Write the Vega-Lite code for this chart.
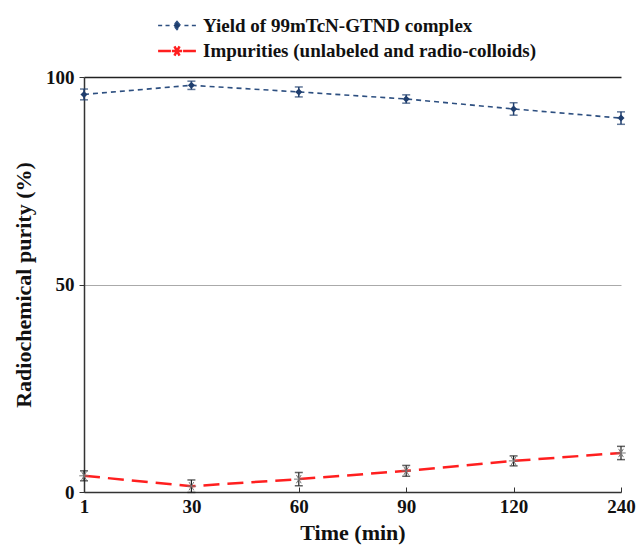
{
  "$schema": "https://vega.github.io/schema/vega-lite/v6.json",
  "width": 537,
  "height": 415,
  "autosize": {"type": "none"},
  "padding": {"left": 84, "top": 77, "right": 15, "bottom": 53},
  "background": "white",
  "config": {
    "view": {"stroke": null},
    "font": "Liberation Serif",
    "axis": {"labelFont": "Liberation Serif", "titleFont": "Liberation Serif", "labelFontWeight": "bold", "titleFontWeight": "bold", "labelColor": "#111", "titleColor": "#111", "labelFontSize": 19, "titleFontSize": 22}
  },
  "data": {"values": [
    {"time": 1, "series": "Yield of 99mTcN-GTND complex", "value": 95.8, "lo": 94.5, "hi": 97.1},
    {"time": 30, "series": "Yield of 99mTcN-GTND complex", "value": 98.0, "lo": 97.0, "hi": 99.0},
    {"time": 60, "series": "Yield of 99mTcN-GTND complex", "value": 96.4, "lo": 95.2, "hi": 97.6},
    {"time": 90, "series": "Yield of 99mTcN-GTND complex", "value": 94.7, "lo": 93.7, "hi": 95.7},
    {"time": 120, "series": "Yield of 99mTcN-GTND complex", "value": 92.3, "lo": 90.8, "hi": 93.8},
    {"time": 240, "series": "Yield of 99mTcN-GTND complex", "value": 90.1, "lo": 88.6, "hi": 91.6},
    {"time": 1, "series": "Impurities (unlabeled and radio-colloids)", "value": 3.9, "lo": 2.7, "hi": 5.1},
    {"time": 30, "series": "Impurities (unlabeled and radio-colloids)", "value": 1.4, "lo": -0.1, "hi": 2.9},
    {"time": 60, "series": "Impurities (unlabeled and radio-colloids)", "value": 3.1, "lo": 1.5, "hi": 4.7},
    {"time": 90, "series": "Impurities (unlabeled and radio-colloids)", "value": 5.1, "lo": 3.8, "hi": 6.4},
    {"time": 120, "series": "Impurities (unlabeled and radio-colloids)", "value": 7.5, "lo": 6.3, "hi": 8.7},
    {"time": 240, "series": "Impurities (unlabeled and radio-colloids)", "value": 9.4, "lo": 7.8, "hi": 11.0}
  ]},
  "encoding": {
    "x": {"field": "time", "type": "ordinal", "scale": {"type": "point", "padding": 0},
      "axis": {"title": "Time (min)", "labelAngle": 0, "domainColor": "#333", "domainWidth": 1.5, "tickColor": "#333", "tickSize": -5, "labelPadding": 10, "titlePadding": 6}}
  },
  "layer": [
    {
      "mark": {"type": "line"},
      "encoding": {
        "y": {"field": "value", "type": "quantitative", "scale": {"domain": [0, 100]},
          "axis": {"title": "Radiochemical purity (%)", "values": [0, 50, 100], "titlePadding": 10, "domainColor": "#333", "domainWidth": 1.5, "tickColor": "#333", "tickSize": 5, "labelPadding": 5,
            "grid": true, "gridColor": {"condition": {"test": "datum.value === 100", "value": "#222"}, "value": "#aaa"}, "gridWidth": {"condition": {"test": "datum.value === 100", "value": 1.5}, "value": 1}}},
        "color": {"field": "series", "type": "nominal",
          "scale": {"domain": ["Yield of 99mTcN-GTND complex", "Impurities (unlabeled and radio-colloids)"], "range": ["#2d4f80", "#ff1f1f"]},
          "legend": {"title": null, "orient": "none", "legendX": 78, "legendY": -66, "direction": "vertical",
            "labelFont": "Liberation Serif", "labelFontWeight": "bold", "labelFontSize": 19, "labelColor": "#111", "labelOffset": 11, "labelLimit": 600, "rowPadding": 0, "symbolSize": 729,
            "encode": {"symbols": {"update": {
              "shape": {"signal": "datum.value == 'Yield of 99mTcN-GTND complex' ? 'M-1.4,0L-1.1,0M-0.85,0L-0.55,0M0.55,0L0.85,0M1.1,0L1.4,0M0,-0.3L0.26,0L0,0.3L-0.26,0Z' : 'M-1.4,0L-0.45,0M0.45,0L1.4,0M-0.38,0L0.38,0M-0.19,-0.34L0.19,0.34M-0.19,0.34L0.19,-0.34'"},
              "fill": {"signal": "datum.value == 'Yield of 99mTcN-GTND complex' ? '#1f3e6e' : 'transparent'"},
              "stroke": {"signal": "datum.value == 'Yield of 99mTcN-GTND complex' ? '#1f3e6e' : '#ff1f1f'"},
              "strokeWidth": {"signal": "datum.value == 'Yield of 99mTcN-GTND complex' ? 2 : 2.5"},
              "strokeDash": {"value": []}
            }}}}},
        "strokeDash": {"field": "series", "type": "nominal", "legend": null,
          "scale": {"domain": ["Yield of 99mTcN-GTND complex", "Impurities (unlabeled and radio-colloids)"], "range": [[5, 4], [16, 8]]}},
        "strokeWidth": {"field": "series", "type": "nominal", "legend": null,
          "scale": {"domain": ["Yield of 99mTcN-GTND complex", "Impurities (unlabeled and radio-colloids)"], "range": [1.6, 2.5]}}
      }
    },
    {
      "transform": [{"filter": "datum.series == 'Yield of 99mTcN-GTND complex'"}],
      "mark": {"type": "rule", "color": "#1f3e6e", "strokeWidth": 1.5},
      "encoding": {"y": {"field": "lo", "type": "quantitative"}, "y2": {"field": "hi"}}
    },
    {
      "transform": [{"filter": "datum.series == 'Yield of 99mTcN-GTND complex'"}],
      "mark": {"type": "tick", "color": "#1f3e6e", "thickness": 1.5, "size": 8},
      "encoding": {"y": {"field": "lo", "type": "quantitative"}}
    },
    {
      "transform": [{"filter": "datum.series == 'Yield of 99mTcN-GTND complex'"}],
      "mark": {"type": "tick", "color": "#1f3e6e", "thickness": 1.5, "size": 8},
      "encoding": {"y": {"field": "hi", "type": "quantitative"}}
    },
    {
      "transform": [{"filter": "datum.series == 'Yield of 99mTcN-GTND complex'"}],
      "mark": {"type": "point", "shape": "diamond", "filled": true, "color": "#1f3e6e", "size": 50, "opacity": 1},
      "encoding": {"y": {"field": "value", "type": "quantitative"}}
    },
    {
      "transform": [{"filter": "datum.series == 'Impurities (unlabeled and radio-colloids)'"}],
      "mark": {"type": "rule", "color": "#222", "strokeWidth": 1.2},
      "encoding": {"y": {"field": "lo", "type": "quantitative"}, "y2": {"field": "hi"}}
    },
    {
      "transform": [{"filter": "datum.series == 'Impurities (unlabeled and radio-colloids)'"}],
      "mark": {"type": "tick", "color": "#222", "thickness": 1.5, "size": 8},
      "encoding": {"y": {"field": "lo", "type": "quantitative"}}
    },
    {
      "transform": [{"filter": "datum.series == 'Impurities (unlabeled and radio-colloids)'"}],
      "mark": {"type": "tick", "color": "#222", "thickness": 1.5, "size": 8},
      "encoding": {"y": {"field": "hi", "type": "quantitative"}}
    },
    {
      "transform": [{"filter": "datum.series == 'Impurities (unlabeled and radio-colloids)'"}],
      "mark": {"type": "point", "shape": "M-1,0L1,0M-0.5,-0.87L0.5,0.87M-0.5,0.87L0.5,-0.87", "filled": false, "color": "#777", "strokeWidth": 1, "size": 90, "opacity": 1},
      "encoding": {"y": {"field": "value", "type": "quantitative"}}
    }
  ]
}
